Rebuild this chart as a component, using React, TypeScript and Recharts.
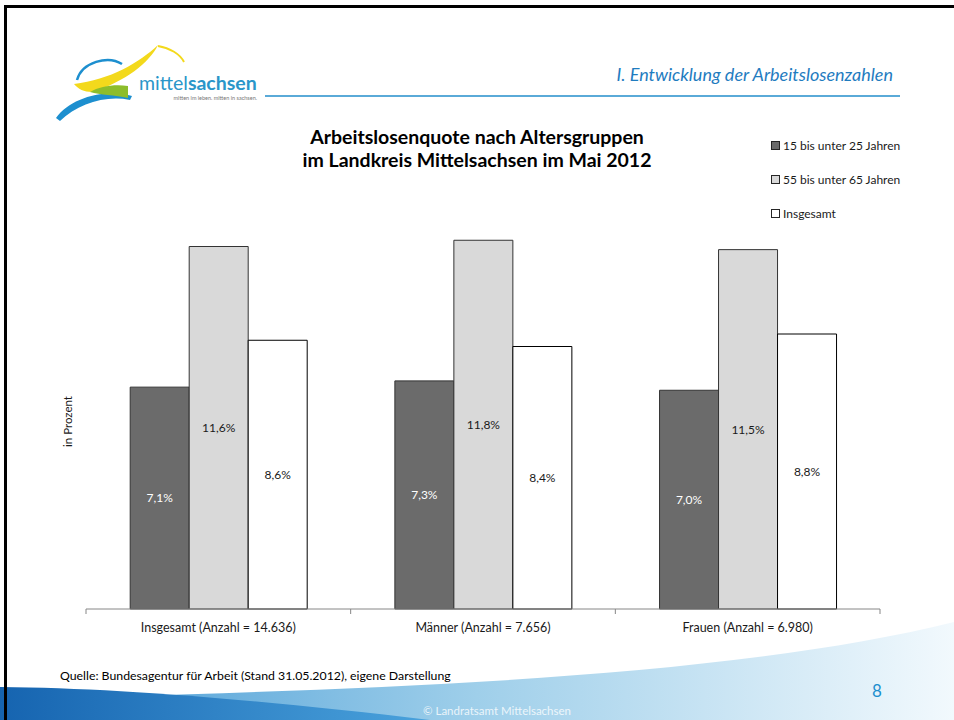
import { BarChart, Bar, XAxis, YAxis, Legend, LabelList } from "recharts";

const categories = [
  "Insgesamt (Anzahl = 14.636)",
  "Männer (Anzahl = 7.656)",
  "Frauen (Anzahl = 6.980)",
];
const seriesNames = ["15 bis unter 25 Jahren", "55 bis unter 65 Jahren", "Insgesamt"];
const jung = [7.1, 7.3, 7.0];
const alt = [11.6, 11.8, 11.5];
const gesamt = [8.6, 8.4, 8.8];

const fills = ["#6b6b6b", "#d9d9d9", "#ffffff"];
const FONT = "Lato, 'Open Sans', sans-serif";

const data = categories.map((name, i) => ({
  name,
  jung: jung[i],
  alt: alt[i],
  gesamt: gesamt[i],
}));

const fmt = (v: number) => `${v.toFixed(1).replace(".", ",")}%`;

function CategoryTick(props: any) {
  const { x, y, payload, index, visibleTicksCount } = props;
  const half = payload?.offset ?? 132.3;
  const last = index === visibleTicksCount - 1;
  return (
    <g>
      <line x1={x - half} x2={x - half} y1={y} y2={y + 5} stroke="#868686" />
      {last && <line x1={x + half} x2={x + half} y1={y} y2={y + 5} stroke="#868686" />}
      <text x={x} y={y + 23} textAnchor="middle" fontSize={12.5} fill="#1a1a1a" fontFamily={FONT}>
        {payload.value}
      </text>
    </g>
  );
}

function LegendBox(props: any) {
  const items = props.payload || [];
  return (
    <div style={{ fontFamily: FONT, fontSize: 12, color: "#1a1a1a" }}>
      {items.map((entry: any, i: number) => (
        <div key={i} style={{ height: 34, display: "flex", alignItems: "center" }}>
          <span
            style={{
              display: "inline-block",
              width: 7,
              height: 7,
              background: fills[i],
              border: "1px solid #262626",
              marginRight: 3,
            }}
          />
          {entry.value}
        </div>
      ))}
    </div>
  );
}

function Decor() {
  return (
    <svg width={954} height={720} style={{ position: "absolute", left: 0, top: 0 }}>
      <defs>
        <linearGradient id="swLight" x1="0" x2="1" y1="0" y2="0">
          <stop offset="0" stopColor="#3d95d3" />
          <stop offset="0.5" stopColor="#9fcfea" />
          <stop offset="1" stopColor="#f2f9fd" />
        </linearGradient>
        <linearGradient id="swDark" x1="0" x2="1" y1="0" y2="0">
          <stop offset="0" stopColor="#1664b0" />
          <stop offset="1" stopColor="#4aa2dc" />
        </linearGradient>
      </defs>
      {/* logo */}
      <path d="M77 80 C 82 62, 108 55, 122 64" fill="none" stroke="#1d8fcf" strokeWidth={2.5} />
      <path d="M56 118 C 70 98, 105 88, 132 96 L 130 100 C 105 95, 78 104, 60 121 Z" fill="#1d8fcf" />
      <path d="M74 84 C 110 80, 140 62, 158 45 C 150 62, 125 82, 92 92 C 84 92, 78 89, 74 84 Z" fill="#f3d91c" />
      <path d="M158 46 C 170 48, 180 54, 184 62" fill="none" stroke="#f3d91c" strokeWidth={2} />
      <path d="M90 92 C 100 86, 115 84, 128 86 L 128 98 C 115 95, 100 95, 90 92 Z" fill="#8dbd2b" />
      <text x={139} y={90} fontFamily={FONT} fontSize={19.5} fill="#2a96c9">
        mittel<tspan fontWeight="bold">sachsen</tspan>
      </text>
      <text x={257} y={100} textAnchor="end" fontFamily={FONT} fontSize={5.5} fill="#777">
        mitten im leben. mitten in sachsen.
      </text>
      <line x1={265} x2={900} y1={96} y2={96} stroke="#5aaad8" strokeWidth={2} />
      <text x={893} y={81} textAnchor="end" fontFamily={FONT} fontStyle="italic" fontSize={18} fill="#1f7cbf">
        I. Entwicklung der Arbeitslosenzahlen
      </text>
      {/* chart title */}
      <text x={477} y={144} textAnchor="middle" fontFamily={FONT} fontWeight="bold" fontSize={19.5} fill="#000">
        Arbeitslosenquote nach Altersgruppen
      </text>
      <text x={477} y={167} textAnchor="middle" fontFamily={FONT} fontWeight="bold" fontSize={19.5} fill="#000">
        im Landkreis Mittelsachsen im Mai 2012
      </text>
      {/* footer */}
      <text x={60} y={680} fontFamily={FONT} fontSize={12.3} fill="#000">
        Quelle: Bundesagentur für Arbeit (Stand 31.05.2012), eigene Darstellung
      </text>
      <path d="M0 700 C 300 690, 700 685, 954 622 L 954 720 L 0 720 Z" fill="url(#swLight)" />
      <path d="M0 687 C 120 688, 260 700, 430 720 L 0 720 Z" fill="url(#swDark)" />
      <text x={877} y={697} textAnchor="middle" fontFamily={FONT} fontSize={17} fill="#1d8fcf">
        8
      </text>
      <text x={497} y={715} textAnchor="middle" fontFamily={FONT} fontSize={11.5} fill="#ffffff" fillOpacity={0.8}>
        © Landratsamt Mittelsachsen
      </text>
    </svg>
  );
}

function Frame() {
  return (
    <svg width={954} height={720} style={{ position: "absolute", left: 0, top: 0, pointerEvents: "none" }}>
      <rect x={4} y={5} width={3} height={715} fill="#000" />
      <rect x={4} y={5} width={950} height={3} fill="#000" />
    </svg>
  );
}

export default function App() {
  return (
    <div
      style={{
        position: "fixed",
        left: 0,
        top: 0,
        width: 954,
        height: 720,
        background: "#fff",
        overflow: "hidden",
      }}
    >
      <Decor />
      <div style={{ position: "absolute", left: 0, top: 0 }}>
        <BarChart
          width={954}
          height={720}
          data={data}
          margin={{ top: 234, right: 74, bottom: 81, left: 56 }}
          barCategoryGap="16.7%"
          barGap={0}
        >
          <XAxis
            dataKey="name"
            height={30}
            axisLine={{ stroke: "#868686" }}
            tickLine={false}
            tickSize={0}
            tickMargin={0}
            interval={0}
            tick={<CategoryTick />}
          />
          <YAxis
            domain={[0, 12]}
            width={30}
            axisLine={false}
            tickLine={false}
            tick={false}
            label={{
              content: ({ viewBox }: any) => {
                const cx = (viewBox?.x ?? 56) + 11;
                const cy = (viewBox?.y ?? 234) + (viewBox?.height ?? 375) / 2;
                return (
                  <text
                    x={cx}
                    y={cy}
                    transform={`rotate(-90 ${cx} ${cy})`}
                    textAnchor="middle"
                    dominantBaseline="central"
                    fontFamily={FONT}
                    fontSize={11.5}
                    fill="#1a1a1a"
                  >
                    in Prozent
                  </text>
                );
              },
            }}
          />
          <Legend
            layout="vertical"
            align="center"
            verticalAlign="middle"
            wrapperStyle={{ left: 771, top: 128, width: 180 }}
            content={<LegendBox />}
          />
          <Bar dataKey="jung" name={seriesNames[0]} fill={fills[0]} stroke="#333" isAnimationActive={false}>
            <LabelList dataKey="jung" position="center" formatter={fmt} fill="#ffffff" fontSize={12} fontFamily={FONT} />
          </Bar>
          <Bar dataKey="alt" name={seriesNames[1]} fill={fills[1]} stroke="#333" isAnimationActive={false}>
            <LabelList dataKey="alt" position="center" formatter={fmt} fill="#1a1a1a" fontSize={12} fontFamily={FONT} />
          </Bar>
          <Bar dataKey="gesamt" name={seriesNames[2]} fill={fills[2]} stroke="#000" isAnimationActive={false}>
            <LabelList dataKey="gesamt" position="center" formatter={fmt} fill="#1a1a1a" fontSize={12} fontFamily={FONT} />
          </Bar>
        </BarChart>
      </div>
      <Frame />
    </div>
  );
}
